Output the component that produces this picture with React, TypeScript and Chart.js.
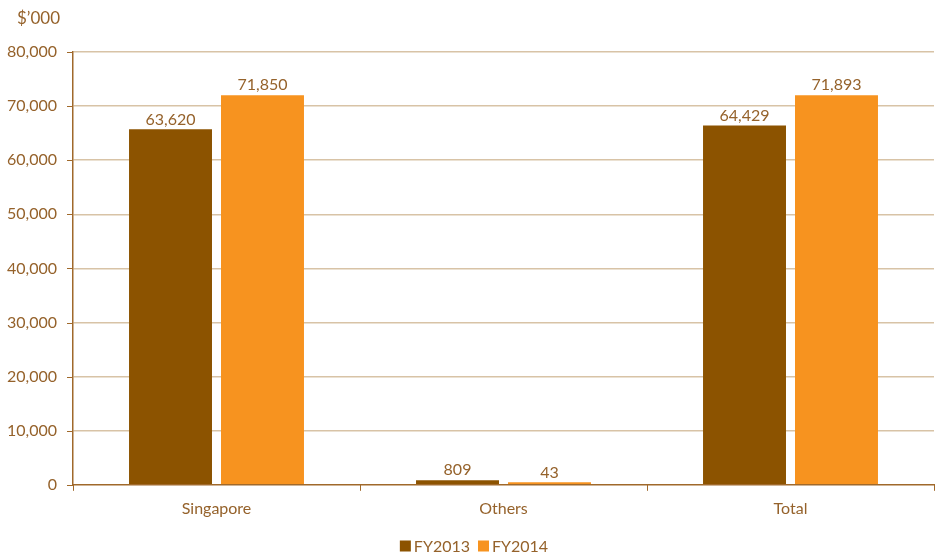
import React, { useEffect, useRef } from "react";
import { Chart, registerables } from "chart.js";

Chart.register(...registerables);

const categories = ["Singapore", "Others", "Total"];
const seriesNames = ["FY2013", "FY2014"];
// bar heights as drawn in the picture ($'000)
const fy2013Heights = [65700, 850, 66400];
const fy2014Heights = [72000, 450, 72000];
// printed data labels
const fy2013Labels = ["63,620", "809", "64,429"];
const fy2014Labels = ["71,850", "43", "71,893"];
const yTicks = [0, 10000, 20000, 30000, 40000, 50000, 60000, 70000, 80000];
const unitLabel = "$\u2019000";

const TEXT = "#95622B";
const AXIS = "#A0692B";
const GRID = "#D8C3A6";
const C1 = "#8C5300";
const C2 = "#F7931F";
const FONT = "Lato";
const FS = 16;

const fmt = (v: number) => v.toLocaleString("en-US");

const overlay = {
  id: "overlay",
  afterDraw(chart: any) {
    const ctx = chart.ctx;
    const area = chart.chartArea;
    const y = chart.scales.y;
    ctx.save();
    // y tick marks
    ctx.strokeStyle = AXIS;
    ctx.lineWidth = 1;
    yTicks.forEach((t) => {
      const py = Math.round(y.getPixelForValue(t)) + 0.5;
      ctx.beginPath();
      ctx.moveTo(area.left - 6, py);
      ctx.lineTo(area.left, py);
      ctx.stroke();
    });
    // data labels
    ctx.fillStyle = TEXT;
    ctx.font = `${FS}px ${FONT}`;
    ctx.textAlign = "center";
    ctx.textBaseline = "bottom";
    const labelSets = [fy2013Labels, fy2014Labels];
    chart.data.datasets.forEach((ds: any, di: number) => {
      const meta = chart.getDatasetMeta(di);
      meta.data.forEach((bar: any, i: number) => {
        ctx.fillText(labelSets[di][i], bar.x, bar.y - 2);
      });
    });
    // unit label
    ctx.textAlign = "left";
    ctx.textBaseline = "middle";
    ctx.font = `17px ${FONT}`;
    ctx.fillText(unitLabel, 17, 19);
    ctx.font = `${FS}px ${FONT}`;
    // legend
    const items = seriesNames.map((n, i) => ({ n, c: i === 0 ? C1 : C2 }));
    const box = 11;
    const gapBoxText = 3;
    const gapItems = 8;
    const widths = items.map((it) => box + gapBoxText + ctx.measureText(it.n).width);
    const total = widths.reduce((a, b) => a + b, 0) + gapItems * (items.length - 1);
    let x = 474 - total / 2;
    const ly = 546;
    items.forEach((it, i) => {
      ctx.fillStyle = it.c;
      ctx.fillRect(x, ly - box / 2, box, box);
      ctx.fillStyle = TEXT;
      ctx.fillText(it.n, x + box + gapBoxText, ly + 1);
      x += widths[i] + gapItems;
    });
    ctx.restore();
  },
};

export default function App() {
  const ref = useRef<HTMLCanvasElement>(null);
  useEffect(() => {
    document.body.style.margin = "0";
    const chart = new Chart(ref.current!, {
      type: "bar",
      data: {
        labels: categories,
        datasets: [
          { label: seriesNames[0], data: fy2013Heights, backgroundColor: C1, categoryPercentage: 0.641, barPercentage: 0.902 },
          { label: seriesNames[1], data: fy2014Heights, backgroundColor: C2, categoryPercentage: 0.641, barPercentage: 0.902 },
        ],
      },
      options: {
        animation: false,
        responsive: false,
        layout: { padding: { top: 52, right: 7, bottom: 29, left: 0 } },
        plugins: { legend: { display: false }, tooltip: { enabled: false } },
        scales: {
          x: {
            grid: { drawOnChartArea: false, drawTicks: true, tickLength: 6, color: AXIS },
            border: { color: AXIS, width: 1 },
            ticks: { color: TEXT, font: { family: FONT, size: FS }, padding: 8 },
          },
          y: {
            min: 0,
            max: 80000,
            afterFit(scale: any) { scale.width = 73; },
            afterBuildTicks(scale: any) { scale.ticks = yTicks.map((v) => ({ value: v })); },
            grid: { drawTicks: false, color: (c: any) => (c.tick && c.tick.value === 0 ? AXIS : GRID), lineWidth: 1.5 },
            border: { color: AXIS, width: 1.5 },
            ticks: { color: TEXT, font: { family: FONT, size: FS }, padding: 16, callback: (v: any) => fmt(Number(v)) },
          },
        },
      },
      plugins: [overlay],
    });
    return () => chart.destroy();
  }, []);
  return (
    <div style={{ position: "absolute", left: 0, top: 0, width: 941, height: 555 }}>
      <canvas ref={ref} width={941} height={555} style={{ width: 941, height: 555 }} />
    </div>
  );
}
